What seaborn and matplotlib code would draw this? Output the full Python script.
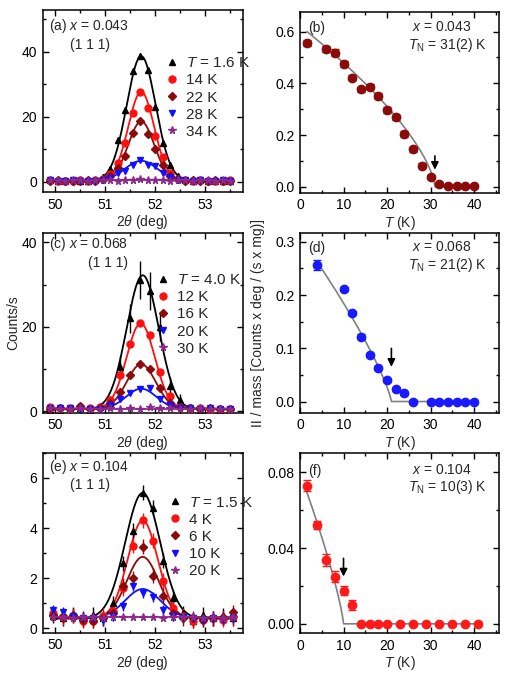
import numpy as np
import matplotlib
matplotlib.use('Agg')
import matplotlib.pyplot as plt
from matplotlib.lines import Line2D
from matplotlib.ticker import MultipleLocator, FormatStrFormatter
import seaborn as sns

# ---------------- data ----------------
# (a) x = 0.043, (1 1 1) scans
two_theta_a = [49.9, 50.05, 50.2, 50.35, 50.5, 50.65, 50.8, 50.95, 51.1, 51.25, 51.4, 51.55, 51.7,
               51.85, 52.0, 52.15, 52.3, 52.45, 52.6, 52.75, 52.9, 53.05, 53.2, 53.35, 53.5]
labels_a = [r'$T$ = 1.6 K', '14 K', '22 K', '28 K', '34 K']
counts_a = [
    [0.5, 0.3, 0.2, 0.4, 0.3, 0.2, 0.6, 1.5, 4.0, 12.8, 22.0, 34.0, 38.6, 34.4, 23.0, 12.0, 5.0, 1.6, 0.6, 0.3, 0.5, 0.2, 0.3, 0.1, 0.3],
    [0.4, 0.3, 0.3, 0.2, 0.4, 0.3, 0.4, 0.9, 2.2, 5.8, 12.0, 21.0, 27.5, 22.5, 14.0, 7.5, 2.8, 0.9, 0.4, 0.3, 0.4, 0.3, 0.2, 0.3, 0.4],
    [0.3, 0.4, 0.2, 0.3, 0.3, 0.4, 0.3, 0.8, 1.8, 4.2, 8.0, 15.0, 18.5, 14.8, 10.0, 5.0, 1.6, 0.8, 0.3, 0.4, 0.3, 0.2, 0.4, 0.3, 0.3],
    [0.6, 0.3, 0.2, 0.4, 0.2, 0.3, 0.2, 0.6, 1.0, 2.6, 3.4, 5.0, 6.5, 5.2, 4.8, 2.6, 1.3, 0.6, 0.4, 0.3, 0.5, 0.2, 0.3, 0.4, 0.3],
    [0.5, 0.4, 0.3, 0.4, 0.5, 0.3, 0.4, 0.4, 0.5, 0.3, 0.6, 0.4, 0.7, 0.4, 0.5, 0.4, 0.3, 0.5, 0.4, 0.3, 0.4, 0.5, 0.3, 0.4, 0.3],
]
err_a = [0.9, 0.9, 0.8, 0.6, 0.3]
# gaussian fit parameters: amplitude, centre, sigma, background
fit_amp_a = [38.3, 27.3, 18.2, 6.1, 0.0]
fit_cen_a = [51.72, 51.72, 51.72, 51.72, 51.72]
fit_sig_a = [0.29, 0.26, 0.26, 0.32, 0.30]
fit_bg_a = [0.3, 0.3, 0.3, 0.3, 0.4]

# (c) x = 0.068
two_theta_c = [49.9, 50.1, 50.3, 50.5, 50.7, 50.9, 51.1, 51.3, 51.5, 51.7, 51.9, 52.1, 52.3, 52.5,
               52.7, 52.9, 53.1, 53.3, 53.5]
labels_c = [r'$T$ = 4.0 K', '12 K', '16 K', '20 K', '30 K']
counts_c = [
    [0.2, 0.1, 0.6, 0.8, 0.1, 1.0, 2.0, 10.5, 22.0, 31.0, 28.5, 20.0, 6.0, 2.5, 0.8, 0.1, 0.6, 0.2, 0.5],
    [1.0, 0.8, 0.6, 1.0, 0.7, 0.9, 2.5, 8.5, 16.0, 20.8, 18.0, 9.2, 3.5, 1.0, 0.8, 0.6, 0.4, 0.5, 0.5],
    [0.5, 0.7, 0.4, 1.1, 0.5, 0.8, 1.8, 4.5, 8.5, 11.2, 10.0, 5.5, 2.0, 0.9, 0.6, 0.5, 0.7, 0.4, 0.5],
    [0.8, 0.7, 0.6, 0.5, 0.4, 0.5, 1.5, 2.8, 4.2, 5.2, 5.5, 2.8, 1.5, 0.8, 0.7, 0.5, 0.6, 0.5, 0.4],
    [0.6, 0.5, 0.4, 0.6, 0.5, 0.4, 0.6, 0.5, 0.7, 0.5, 0.9, 0.6, 0.8, 0.5, 0.4, 0.6, 0.5, 0.4, 0.5],
]
err_c = [
    [0.6, 0.6, 0.6, 0.6, 0.6, 0.8, 1.5, 2.5, 3.5, 4.5, 4.5, 3.5, 2.0, 1.5, 0.8, 0.6, 0.6, 0.6, 0.6],
    0.7, 0.6, 0.5, 0.3,
]
fit_amp_c = [31.8, 20.2, 10.6, 4.8, 0.0]
fit_cen_c = [51.75, 51.71, 51.72, 51.72, 51.72]
fit_sig_c = [0.32, 0.28, 0.29, 0.30, 0.30]
fit_bg_c = [0.4, 0.6, 0.5, 0.5, 0.55]

# (e) x = 0.104
two_theta_e = [49.95, 50.15, 50.35, 50.55, 50.75, 50.95, 51.15, 51.35, 51.55, 51.75, 51.95, 52.15,
               52.35, 52.55, 52.75, 52.95, 53.15, 53.35, 53.55]
labels_e = [r'$T$ = 1.5 K', '4 K', '6 K', '10 K', '20 K']
counts_e = [
    [0.5, 0.4, 0.5, 0.4, 0.55, 0.4, 1.0, 2.6, 3.9, 5.4, 4.8, 2.7, 1.2, 0.6, 0.3, 0.55, 0.4, 0.5, 0.4],
    [0.6, 0.45, 0.5, 0.3, 0.3, 0.5, 0.7, 1.6, 3.3, 4.3, 3.5, 1.9, 0.8, 0.5, 0.3, 0.35, 0.4, 0.35, 0.45],
    [0.55, 0.5, 0.55, 0.35, 0.3, 0.4, 0.6, 1.7, 2.0, 3.25, 2.1, 1.3, 0.6, 0.4, 0.4, 0.35, 0.4, 0.45, 0.65],
    [0.75, 0.65, 0.5, 0.4, 0.4, 0.35, 0.5, 0.9, 1.7, 1.4, 1.25, 0.75, 0.5, 0.45, 0.4, 0.35, 0.4, 0.35, 0.4],
    [0.45, 0.45, 0.42, 0.44, 0.46, 0.43, 0.45, 0.44, 0.45, 0.44, 0.45, 0.43, 0.44, 0.46, 0.44, 0.42, 0.45, 0.43, 0.44],
]
err_e = [0.3, 0.3, 0.3, 0.2, 0.05]
fit_amp_e = [5.0, 3.9, 2.45, 1.15, 0.0]
fit_cen_e = [51.75, 51.75, 51.75, 51.75, 51.75]
fit_sig_e = [0.35, 0.30, 0.32, 0.35, 0.30]
fit_bg_e = [0.4, 0.4, 0.4, 0.42, 0.44]

# (b) (d) (f) integrated intensity vs temperature
temp_b = [1.6, 6, 8, 10, 12, 14, 16, 18, 20, 22, 24, 26, 28, 30, 32, 34, 36, 38, 40]
inten_b = [0.557, 0.533, 0.519, 0.474, 0.422, 0.377, 0.387, 0.351, 0.297, 0.268, 0.204, 0.145,
           0.081, 0.039, 0.010, 0.002, 0.001, 0.001, 0.001]
inten_err_b = [0.012, 0.012, 0.012, 0.011, 0.011, 0.010, 0.010, 0.010, 0.010, 0.010, 0.010, 0.009,
               0.009, 0.008, 0.006, 0.004, 0.004, 0.004, 0.004]
temp_d = [4, 10, 12, 14, 16, 18, 20, 22, 24, 26, 30, 32, 34, 36, 38, 40]
inten_d = [0.256, 0.211, 0.166, 0.122, 0.0875, 0.0625, 0.041, 0.023, 0.0156, 0.0, 0.0, 0.0, 0.0,
           0.0, 0.0, 0.0]
inten_err_d = [0.009, 0.004, 0.004, 0.004, 0.004, 0.004, 0.004, 0.003, 0.003, 0.002, 0.002, 0.002,
               0.002, 0.002, 0.002, 0.002]
temp_f = [1.6, 4, 6, 8, 10, 12, 14, 16, 18, 20, 23, 26, 29, 32, 35, 38, 41]
inten_f = [0.073, 0.0523, 0.0336, 0.0249, 0.0175, 0.010, 0.0, 0.0, 0.0, 0.0, 0.0, 0.0, 0.0, 0.0,
           0.0, 0.0, 0.0]
inten_err_f = [0.003, 0.002, 0.003, 0.003, 0.0025, 0.0025, 0.0005, 0.0005, 0.0005, 0.0005, 0.0005,
               0.0005, 0.0005, 0.0005, 0.0005, 0.0005, 0.0005]
# order parameter fits: amplitude, T_N, exponent, T range
op_amp = [0.622, 0.31, 0.0797]
op_tn = [31, 21, 10]
op_exp = [0.67, 0.8, 0.8]
op_range = [(1.6, 40), (4, 40), (1.5, 41)]

# ---------------- style ----------------
sns.set_theme(style='ticks')
plt.rcParams['font.family'] = ['Liberation Sans', 'DejaVu Sans']
plt.rcParams.update({
    'font.size': 10, 'axes.labelsize': 10, 'xtick.labelsize': 10, 'ytick.labelsize': 10,
    'mathtext.fontset': 'custom', 'mathtext.rm': 'Liberation Sans',
    'mathtext.it': 'Liberation Sans:italic', 'mathtext.bf': 'Liberation Sans:bold',
    'axes.linewidth': 1.1, 'axes.edgecolor': 'black',
})

colors = ['#000000', '#ff1010', '#8b0a0a', '#1010ff', '#8b2a8b']
markers = ['^', 'o', 'D', 'v', '*']
msizes = [5, 5, 4, 5, 5.5]

fig = plt.figure(figsize=(5.09, 6.75), dpi=100)
W, H = 509, 675


def add_axes(left, top, right, bottom):
    return fig.add_axes([left / W, (H - bottom) / H, (right - left) / W, (bottom - top) / H])


def style_ticks(ax):
    ax.tick_params(which='both', direction='in', top=True, right=True, width=1.0, colors='black',
                   pad=4)
    ax.tick_params(which='major', length=4)
    ax.tick_params(which='minor', length=2.2)


def scan_panel(ax, x, counts, errs, amp, cen, sig, bg, labels, ylim, ymajor, tag, hkl_pos,
               leg_pos, tag_y):
    xf = np.linspace(x[0], x[-1], 400)
    for i in range(5):
        yf = amp[i] * np.exp(-(xf - cen[i]) ** 2 / (2 * sig[i] ** 2)) + bg[i]
        sns.lineplot(x=xf, y=yf, ax=ax, color=colors[i], lw=1.3, legend=False, zorder=2)
    for i in range(5):
        ax.errorbar(x, counts[i], yerr=errs[i], fmt=markers[i], color=colors[i], ms=msizes[i],
                    elinewidth=1.0, capsize=0, zorder=3)
    ax.set_xlim(49.75, 53.75)
    ax.set_ylim(*ylim)
    ax.xaxis.set_major_locator(MultipleLocator(1))
    ax.xaxis.set_minor_locator(MultipleLocator(0.5))
    ax.yaxis.set_major_locator(MultipleLocator(ymajor))
    ax.yaxis.set_minor_locator(MultipleLocator(ymajor / 2))
    style_ticks(ax)
    ax.set_xlabel(r'2$\theta$ (deg)', labelpad=1)
    ax.text(0.033, tag_y, tag, transform=ax.transAxes, ha='left', va='center')
    ax.text(hkl_pos[0], hkl_pos[1], '(1 1 1)', transform=ax.transAxes, ha='left', va='center')
    handles = [Line2D([], [], marker=markers[i], color=colors[i], ls='none', ms=msizes[i])
               for i in range(5)]
    ax.legend(handles, labels, loc='upper left', bbox_to_anchor=leg_pos, frameon=False,
              handlelength=1.0, handletextpad=0.4, labelspacing=0.2, borderpad=0,
              borderaxespad=0)


def order_panel(ax, k, T, I, Ierr, color, ylim, ymajor, fmt, tag, xval, tn, arrow, tag_y):
    t0, t1 = op_range[k]
    tf = np.linspace(t0, t1, 400)
    fit = op_amp[k] * np.clip(1 - tf / op_tn[k], 0, None) ** op_exp[k]
    sns.lineplot(x=tf, y=fit, ax=ax, color='#808080', lw=1.2, legend=False, zorder=2)
    ax.errorbar(T, I, yerr=Ierr, fmt='o', color=color, ms=6, elinewidth=1.0, capsize=3,
                capthick=1.0, zorder=3)
    ax.annotate('', xy=(op_tn[k], arrow[1]), xytext=(op_tn[k], arrow[0]),
                arrowprops=dict(arrowstyle='-|>', color='black', lw=1.2, mutation_scale=11))
    ax.set_xlim(0, 45.8)
    ax.set_ylim(*ylim)
    ax.xaxis.set_major_locator(MultipleLocator(10))
    ax.xaxis.set_minor_locator(MultipleLocator(5))
    ax.yaxis.set_major_locator(MultipleLocator(ymajor))
    ax.yaxis.set_minor_locator(MultipleLocator(ymajor / 2))
    ax.yaxis.set_major_formatter(FormatStrFormatter(fmt))
    style_ticks(ax)
    ax.set_xlabel(r'$T$ (K)', labelpad=1)
    ax.text(0.042, tag_y[0], tag, transform=ax.transAxes, ha='left', va='center')
    ax.text(0.563, tag_y[1], xval, transform=ax.transAxes, ha='left', va='center')
    ax.text(0.543, tag_y[2], tn, transform=ax.transAxes, ha='left', va='center')


ax_a = add_axes(42.7, 10, 242.7, 192)
ax_b = add_axes(300, 11.7, 499.3, 192.7)
ax_c = add_axes(42.7, 232.7, 242.7, 412.7)
ax_d = add_axes(300, 232.7, 499.3, 412.7)
ax_e = add_axes(42.7, 452.7, 242.7, 632.7)
ax_f = add_axes(300, 453.3, 499.3, 633.3)

scan_panel(ax_a, two_theta_a, counts_a, err_a, fit_amp_a, fit_cen_a, fit_sig_a, fit_bg_a,
           labels_a, (-3.2, 52.8), 20, r'(a) $x$ = 0.043', (0.137, 0.81), (0.61, 0.745), 0.912)
scan_panel(ax_c, two_theta_c, counts_c, err_c, fit_amp_c, fit_cen_c, fit_sig_c, fit_bg_c,
           labels_c, (-0.4, 42.3), 20, r'(c) $x$ = 0.068', (0.228, 0.834), (0.565, 0.774), 0.935)
scan_panel(ax_e, two_theta_e, counts_e, err_e, fit_amp_e, fit_cen_e, fit_sig_e, fit_bg_e,
           labels_e, (-0.17, 7.0), 2, r'(e) $x$ = 0.104', (0.137, 0.82), (0.625, 0.761), 0.919)
ax_c.set_ylabel('Counts/s')
ax_c.yaxis.set_label_coords(-0.11, 0.5)

order_panel(ax_b, 0, temp_b, inten_b, inten_err_b, '#8b0a0a', (-0.023, 0.677), 0.2, '%.1f',
            '(b)', r'$x$ = 0.043', r'$T_{\rm N}$ = 31(2) K', (0.13, 0.055), (0.908, 0.914, 0.816))
order_panel(ax_d, 1, temp_d, inten_d, inten_err_d, '#1a1aff', (-0.021, 0.317), 0.1, '%.1f',
            '(d)', r'$x$ = 0.068', r'$T_{\rm N}$ = 21(2) K', (0.105, 0.06), (0.913, 0.919, 0.82))
order_panel(ax_f, 2, temp_f, inten_f, inten_err_f, '#ff1a1a', (-0.005, 0.09), 0.04, '%.2f',
            '(f)', r'$x$ = 0.104', r'$T_{\rm N}$ = 10(3) K', (0.036, 0.0235), (0.903, 0.907, 0.815))
ax_d.set_ylabel('II / mass [Counts x deg / (s x mg)]')
ax_d.yaxis.set_label_coords(-0.175, 0.5)

fig.savefig('out.png', dpi=100)
